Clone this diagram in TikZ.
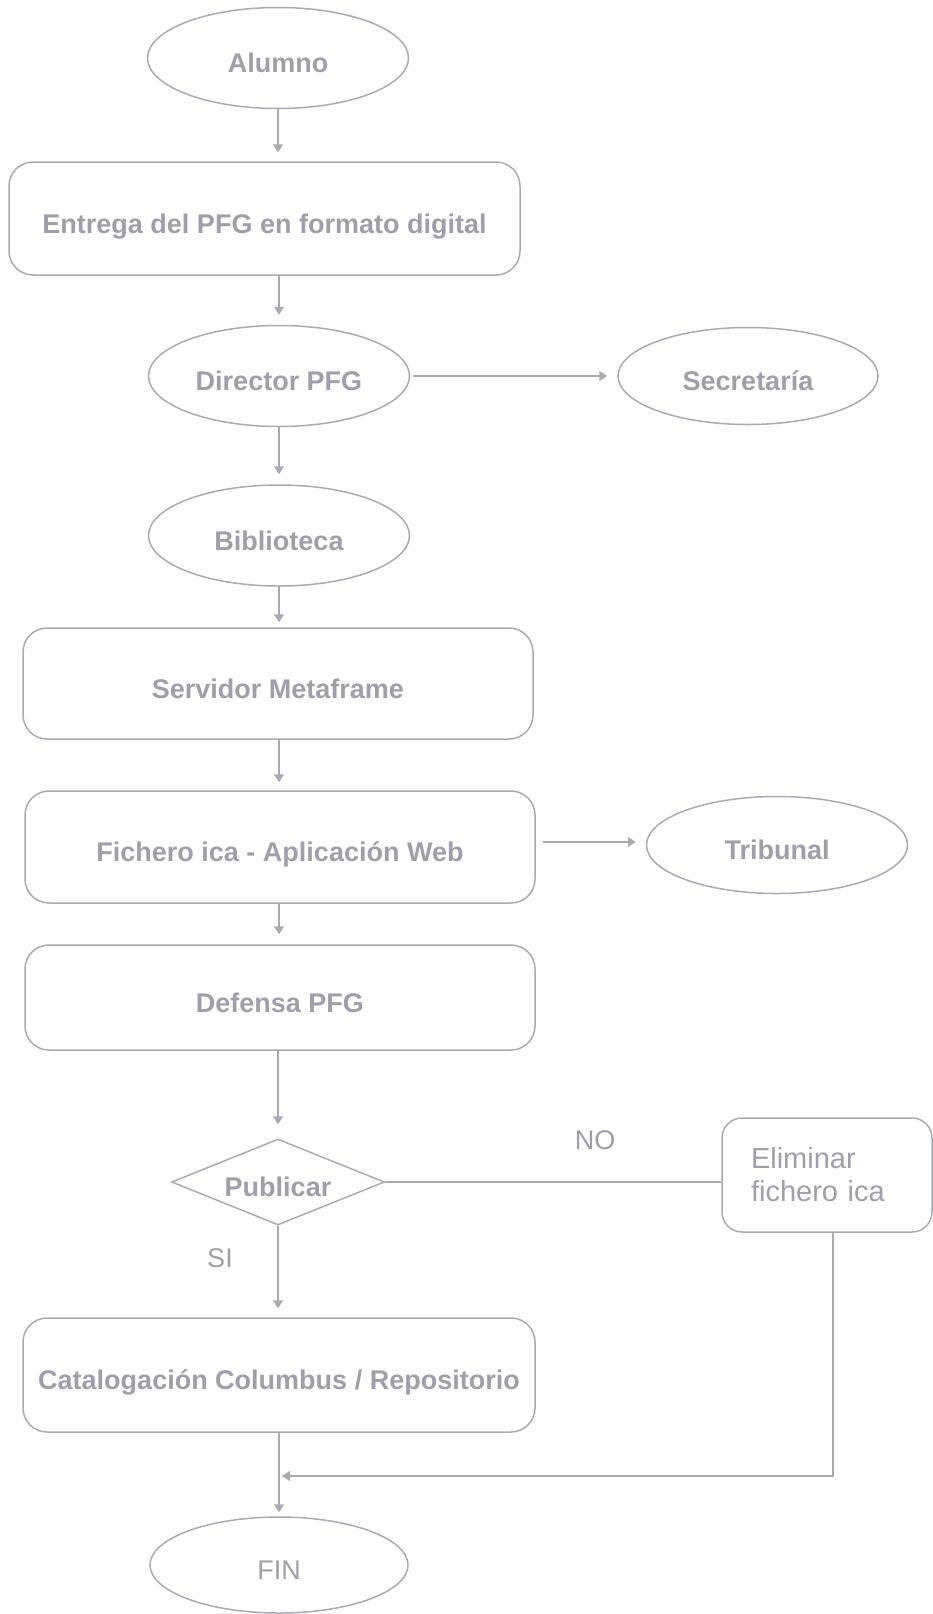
\documentclass[tikz,border=0pt]{standalone}
\usepackage{fontspec}
\setmainfont{Liberation Sans}
\usetikzlibrary{arrows.meta,shapes.geometric}

\definecolor{linegray}{RGB}{170,170,180}
\definecolor{textgray}{RGB}{160,158,170}

\tikzset{
  base/.style={draw=linegray, line width=1.5pt, text=textgray, inner sep=0pt,
    font=\fontsize{27pt}{32pt}\selectfont\bfseries},
  % single line labels sit a little below the middle of their shape
  lowtext/.style={text height=29pt, text depth=0pt},
  oval/.style={base, lowtext, ellipse, minimum width=261pt, minimum height=101pt},
  box/.style={base, lowtext, rectangle, rounded corners=24pt, minimum width=510pt, minimum height=112pt},
  decision/.style={base, lowtext, diamond, aspect=2.5, minimum width=213pt, minimum height=86pt},
  plain/.style={font=\fontsize{27pt}{33pt}\selectfont},
  notebox/.style={base, rectangle, rounded corners=20pt, font=\fontsize{29pt}{33pt}\selectfont,
    minimum width=210pt, minimum height=114pt, text width=152pt, align=left},
  flow/.style={draw=linegray, line width=1.5pt, -{Triangle[width=10pt,length=8pt]}},
  link/.style={draw=linegray, line width=1.5pt},
  tag/.style={text=textgray, inner sep=0pt, plain},
}

\begin{document}
\begin{tikzpicture}[x=1pt, y=-1pt]
  \useasboundingbox (0,0) rectangle (933,1614);

  % main column
  \node[oval] (alumno) at (278,58) {Alumno};
  \node[box, minimum width=511pt, minimum height=113pt] (entrega) at (264.5,218.5)
    {Entrega del PFG en formato digital};
  \node[oval] (director) at (279,376) {Director PFG};
  \node[oval, minimum width=260pt, minimum height=97pt] (secretaria) at (748,376) {Secretaría};
  \node[oval] (biblioteca) at (279,535.5) {Biblioteca};
  \node[box, minimum height=111pt] (servidor) at (278,683.5) {Servidor Metaframe};
  \node[box] (fichero) at (280,847) {Fichero ica - Aplicación Web};
  \node[oval, minimum width=261pt, minimum height=97pt] (tribunal) at (777,845) {Tribunal};
  \node[box, minimum height=105pt] (defensa) at (280,997.5) {Defensa PFG};
  \node[decision] (publicar) at (278,1182) {Publicar};
  \node[notebox] (eliminar) at (827,1175) {Eliminar\\fichero ica};
  \node[box, minimum width=512pt, minimum height=114pt] (catalog) at (279,1375)
    {Catalogación Columbus / Repositorio};
  \node[oval, plain, minimum width=258pt, minimum height=96pt] (fin) at (279,1565) {FIN};

  % branch labels
  \node[tag] (no) at (595,1140) {NO};
  \node[tag] (si) at (220,1258) {SI};

  % joining point above FIN
  \coordinate (join) at (279,1476);

  % connectors
  \draw[flow, shorten >=9pt] (alumno.south) -- (alumno.south |- entrega.north);
  \draw[flow, shorten >=10pt] (director.north |- entrega.south) -- (director.north);
  \draw[flow, shorten <=3pt, shorten >=10pt] (director.east) -- (director.east -| secretaria.west);
  \draw[flow, shorten >=10pt] (director.south) -- (biblioteca.north);
  \draw[flow, shorten >=5pt] (biblioteca.south) -- (biblioteca.south |- servidor.north);
  \draw[flow, shorten >=8pt] (biblioteca.south |- servidor.south) -- (biblioteca.south |- fichero.north);
  \draw[flow, shorten <=7pt, shorten >=10pt] ([yshift=5pt]fichero.east) -- ([yshift=5pt]fichero.east -| tribunal.west);
  \draw[flow, shorten >=10pt] (biblioteca.south |- fichero.south) -- (biblioteca.south |- defensa.north);
  \draw[flow, shorten >=14pt] (publicar.north |- defensa.south) -- (publicar.north);
  \draw[link] (publicar.east) -- (eliminar.west |- publicar.east);
  \draw[flow, shorten >=9pt] (publicar.south) -- (publicar.south |- catalog.north);
  \draw[flow, shorten >=3pt] ([xshift=6pt]eliminar.south) |- (join);
  \draw[flow, shorten >=4pt] (fin.north |- catalog.south) -- (fin.north);
\end{tikzpicture}
\end{document}
